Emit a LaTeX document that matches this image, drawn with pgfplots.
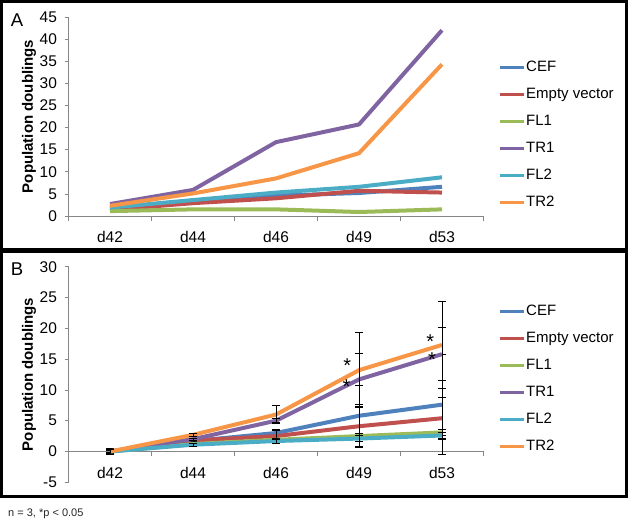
\documentclass[border=0pt]{standalone}
\usepackage{fontspec}
\setmainfont{Liberation Sans}
\usepackage{pgfplots}
\usepackage{pgfplotstable}
\pgfplotsset{compat=1.18}
\definecolor{cCEF}{HTML}{4F81BD}
\definecolor{cEV}{HTML}{C0504D}
\definecolor{cFL1}{HTML}{9BBB59}
\definecolor{cTR1}{HTML}{8064A2}
\definecolor{cFL2}{HTML}{4BACC6}
\definecolor{cTR2}{HTML}{F79646}
\definecolor{axgray}{HTML}{868686}

\pgfplotstableread{
x CEF EV FL1 TR1 FL2 TR2
0 1.8 1.4 1.1 2.7 1.9 2.3
1 3.3 2.9 1.5 5.9 3.6 5.1
2 4.6 4.0 1.5 16.7 5.3 8.5
3 5.2 5.7 0.9 20.7 6.6 14.2
4 6.6 5.3 1.5 42.0 8.75 34.3
}\tabA

\pgfplotstableread{
x CEF eCEF EV eEV FL1 eFL1 TR1 eTR1 FL2 eFL2 TR2 eTR2
0 0.0 0.5 0.0 0.3 0.0 0.2 0.0 0.3 0.0 0.2 0.0 0.4
1 1.7 0.2 1.8 0.2 1.2 0.2 2.0 0.2 1.1 0.2 2.7 0.3
2 3.0 0.4 2.5 1.1 1.9 0.3 5.0 0.3 1.7 0.3 6.0 1.5
3 5.8 5.0 4.1 3.5 2.5 0.5 11.7 4.3 2.1 0.5 13.2 6.1
4 7.6 8.1 5.4 3.4 3.1 0.5 15.8 4.3 2.6 0.5 17.3 7.0
}\tabB

\pgfplotsset{
  panel/.style={
    scale only axis, width=415pt,
    xmin=-0.5, xmax=4.5,
    xtick={0,1,2,3,4}, xticklabels={d42,d44,d46,d49,d53},
    major x tick style={draw=none},
    minor xtick={-0.5,0.5,1.5,2.5,3.5,4.5},
    minor x tick style={draw=axgray, line width=0.6pt},
    minor tick length=5pt,
    major tick length=4pt,
    tick align=outside,
    axis y line*=left,
    axis line style={draw=axgray, line width=0.8pt},
    y tick style={draw=axgray, line width=0.6pt},
    tick label style={font=\fontsize{15.5}{18}\selectfont},
    /pgf/number format/assume math mode=true,
    xticklabel style={yshift=-8pt},
    yticklabel style={xshift=-4pt},
    every axis y label/.style={at={(axis description cs:-0.0952,0.5)}, rotate=90, anchor=center, font=\fontsize{15}{18}\selectfont\bfseries},
    ylabel={Population doublings},
    legend cell align=left,
    legend style={draw=none, fill=none, font=\fontsize{15}{18}\selectfont, row sep=11pt, inner sep=0pt,
      nodes={text height=11pt, text depth=3pt, inner sep=1pt}},
    legend image code/.code={\draw[line width=3pt] (0pt,0pt) -- (24pt,0pt);},
    every axis plot/.append style={line width=4pt, line join=round, mark=none},
  },
  ebar/.style={error bars/.cd, y dir=both, y explicit,
    error bar style={black, line width=0.7pt},
    error mark options={black, rotate=90, mark size=4pt, line width=0.7pt}},
}

\begin{document}
\begin{tikzpicture}[x=1pt,y=1pt]
\path[use as bounding box] (0,0) rectangle (630,522);
\draw[line width=3pt] (1.5,520.5) rectangle (626.5,272);
\draw[line width=3pt] (1.5,270.5) rectangle (626.5,25.5);
\node[font=\fontsize{18.5}{20}\selectfont] at (17,502) {A};
\node[font=\fontsize{18.5}{20}\selectfont] at (17,253) {B};
\node[anchor=west, font=\fontsize{11}{13}\selectfont, text=black!85, inner sep=0pt] at (8,8.5) {n = 3, *p < 0.05};

\begin{axis}[panel, at={(68.5pt,306pt)}, anchor=south west, height=199pt,
  ymin=0, ymax=45, ytick={0,5,...,45}, axis x line*=bottom,
  legend style={at={(axis description cs:1.035,0.785)}, anchor=north west}]
\addplot[cCEF] table[x=x,y=CEF]{\tabA};
\addplot[cEV] table[x=x,y=EV]{\tabA};
\addplot[cFL1] table[x=x,y=FL1]{\tabA};
\addplot[cTR1] table[x=x,y=TR1]{\tabA};
\addplot[cFL2] table[x=x,y=FL2]{\tabA};
\addplot[cTR2] table[x=x,y=TR2]{\tabA};
\legend{CEF,Empty vector,FL1,TR1,FL2,TR2}
\end{axis}

\begin{axis}[panel, at={(68.5pt,39.7pt)}, anchor=south west, height=215.6pt,
  ymin=-5, ymax=30, ytick={-5,0,5,...,30}, axis x line*=middle,
  legend style={at={(axis description cs:1.035,0.832)}, anchor=north west}]
\addplot[cCEF, ebar] table[x=x,y=CEF,y error=eCEF]{\tabB};
\addplot[cEV, ebar] table[x=x,y=EV,y error=eEV]{\tabB};
\addplot[cFL1, ebar] table[x=x,y=FL1,y error=eFL1]{\tabB};
\addplot[cTR1, ebar] table[x=x,y=TR1,y error=eTR1]{\tabB};
\addplot[cFL2, ebar] table[x=x,y=FL2,y error=eFL2]{\tabB};
\addplot[cTR2, ebar] table[x=x,y=TR2,y error=eTR2]{\tabB};
\legend{CEF,Empty vector,FL1,TR1,FL2,TR2}
\node[font=\fontsize{20}{20}\selectfont, inner sep=0pt] at (axis cs:2.86,14.0) {*};
\node[font=\fontsize{20}{20}\selectfont, inner sep=0pt] at (axis cs:2.85,10.6) {*};
\node[font=\fontsize{20}{20}\selectfont, inner sep=0pt] at (axis cs:3.86,17.9) {*};
\node[font=\fontsize{20}{20}\selectfont, inner sep=0pt] at (axis cs:3.88,14.9) {*};
\end{axis}
\end{tikzpicture}
\end{document}
